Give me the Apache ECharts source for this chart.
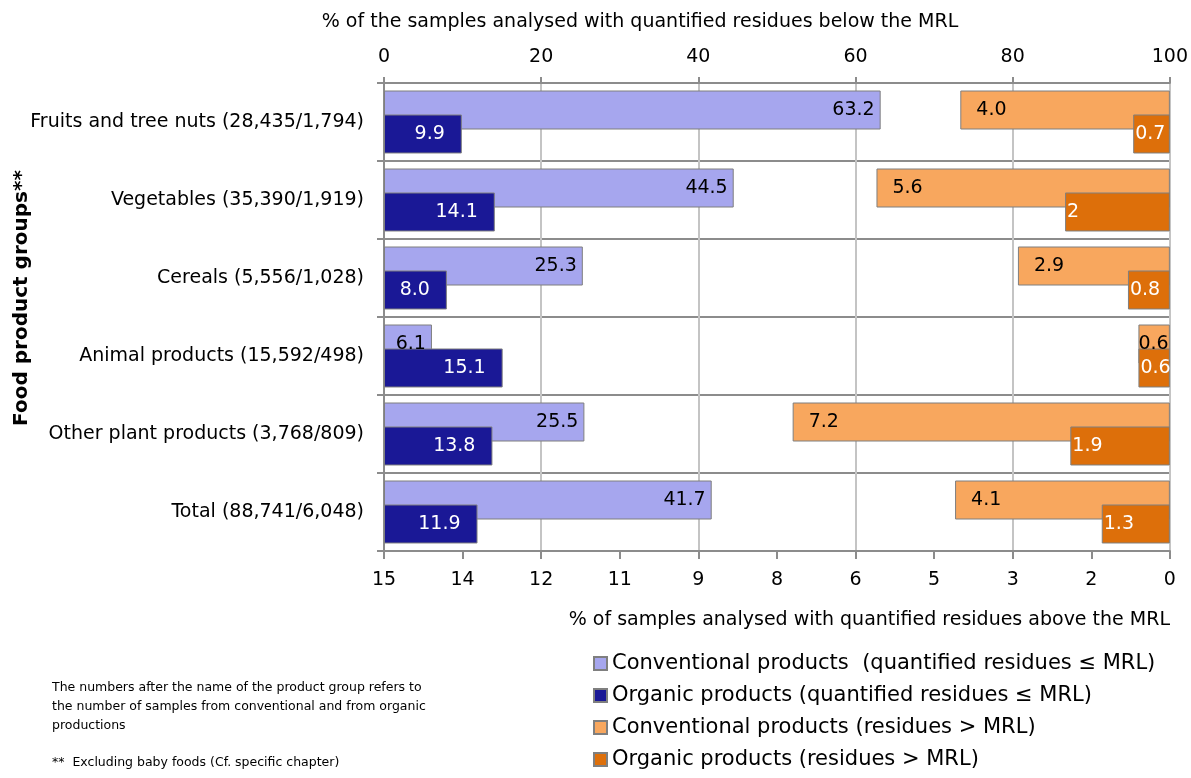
<!DOCTYPE html>
<html>
<head>
<meta charset="utf-8">
<script src="https://cdn.jsdelivr.net/npm/echarts@6/dist/echarts.min.js"></script>
<style>
html,body{margin:0;padding:0;background:#fff;}
#chart{width:1191px;height:778px;}
</style>
</head>
<body>
<div id="chart"></div>
<script>
// ---- data ----
const categories = [
  'Fruits and tree nuts (28,435/1,794)',
  'Vegetables (35,390/1,919)',
  'Cereals (5,556/1,028)',
  'Animal products (15,592/498)',
  'Other plant products (3,768/809)',
  'Total (88,741/6,048)'
];
const convBelow = ['63.2', '44.5', '25.3', '6.1', '25.5', '41.7'];
const orgBelow  = ['9.9', '14.1', '8.0', '15.1', '13.8', '11.9'];
const convAbove = ['4.0', '5.6', '2.9', '0.6', '7.2', '4.1'];
const orgAbove  = ['0.7', '2', '0.8', '0.6', '1.9', '1.3'];
const seriesNames = [
  'Conventional products  (quantified residues \u2264 MRL)',
  'Organic products (quantified residues \u2264 MRL)',
  'Conventional products (residues > MRL)',
  'Organic products (residues > MRL)'
];
const topAxis = { min: 0, max: 100, interval: 20 };
const bottomAxis = { min: 0, max: 15, interval: 1.5 };
const topAxisName = '% of the samples analysed with quantified residues below the MRL';
const bottomAxisName = '% of samples analysed with quantified residues above the MRL';
const yAxisName = 'Food product groups**';
const footnote1 = 'The numbers after the name of the product group refers to\nthe number of samples from conventional and from organic\nproductions';
const footnote2 = '**  Excluding baby foods (Cf. specific chapter)';

// ---- styling ----
const FONT = "'DejaVu Sans', sans-serif";
const colors = ['#a6a6ee', '#1a1896', '#f8a75e', '#dd6f0a'];
const BORDER = '#7f7f7f';
const BW = 39, GAP = '-38.5%';

function mk(name, arr, xi, yi, color, pos, dist, lblColor, shortDist) {
  return {
    name: name, type: 'bar', xAxisIndex: xi, yAxisIndex: yi,
    barWidth: BW, barGap: GAP,
    itemStyle: { color: color, borderColor: BORDER, borderWidth: 1 },
    label: {
      show: true, position: pos, distance: dist, color: lblColor,
      fontFamily: FONT, fontSize: 19,
      formatter: p => arr[p.dataIndex]
    },
    data: arr.map(s => {
      const v = Number(s);
      if (shortDist !== undefined && v < 1) return { value: v, label: { distance: shortDist } };
      return v;
    })
  };
}

const chart = echarts.init(document.getElementById('chart'));
chart.setOption({
  animation: false,
  textStyle: { fontFamily: FONT },
  grid: { left: 384, right: 21, top: 83, bottom: 227, containLabel: false },
  xAxis: [
    {
      type: 'value', position: 'top', min: topAxis.min, max: topAxis.max, interval: topAxis.interval,
      axisLine: { show: true, lineStyle: { color: '#8c8c8c', width: 2 } },
      axisTick: { show: true, length: 6, lineStyle: { color: '#8c8c8c', width: 2 } },
      axisLabel: { color: '#000', fontSize: 19, fontFamily: FONT, margin: 16 },
      splitLine: { show: true, lineStyle: { color: '#c4c4c4', width: 2 } }
    },
    {
      type: 'value', position: 'bottom', inverse: true,
      min: bottomAxis.min, max: bottomAxis.max, interval: bottomAxis.interval,
      axisLine: { show: true, lineStyle: { color: '#8c8c8c', width: 2 } },
      axisTick: { show: true, length: 8, lineStyle: { color: '#8c8c8c', width: 2 } },
      axisLabel: { color: '#000', fontSize: 19, fontFamily: FONT, margin: 20,
        formatter: v => String(Math.round(v)) },
      splitLine: { show: false }
    }
  ],
  yAxis: [
    {
      type: 'category', data: categories, inverse: true,
      axisLine: { show: true, lineStyle: { color: '#8c8c8c', width: 2 } },
      axisTick: { show: true, length: 7, lineStyle: { color: '#8c8c8c', width: 2 } },
      axisLabel: { color: '#000', fontSize: 19, fontFamily: FONT, margin: 20 },
      splitLine: { show: true, lineStyle: { color: '#8c8c8c', width: 2 } }
    },
    {
      type: 'category', data: categories, inverse: true, position: 'left',
      axisLine: { show: false }, axisTick: { show: false }, axisLabel: { show: false },
      splitLine: { show: false }
    }
  ],
  legend: {
    orient: 'vertical', left: 588, top: 648,
    itemWidth: 13, itemHeight: 13, itemGap: 11,
    icon: 'rect',
    textStyle: { color: '#000', fontSize: 21, fontFamily: FONT },
    data: seriesNames
  },
  series: [
    mk(seriesNames[0], convBelow, 0, 0, colors[0], 'insideRight', 6, '#000'),
    mk(seriesNames[1], orgBelow, 0, 0, colors[1], 'insideRight', 17, '#fff'),
    mk(seriesNames[2], convAbove, 1, 1, colors[2], 'insideLeft', 16, '#000', 0),
    mk(seriesNames[3], orgAbove, 1, 1, colors[3], 'insideLeft', 2, '#fff')
  ],
  graphic: [
    { type: 'text', x: 640, y: 22, style: { text: topAxisName, fontSize: 19, fontFamily: FONT, fill: '#000', textAlign: 'center', textVerticalAlign: 'middle' } },
    { type: 'text', x: 1170, y: 620, style: { text: bottomAxisName, fontSize: 19, fontFamily: FONT, fill: '#000', textAlign: 'right', textVerticalAlign: 'middle' } },
    { type: 'text', x: 22, y: 298, rotation: Math.PI / 2, style: { text: yAxisName, fontSize: 20, fontWeight: 'bold', fontFamily: FONT, fill: '#000', textAlign: 'center', textVerticalAlign: 'middle' } },
    { type: 'text', x: 52, y: 678, style: { text: footnote1, fontSize: 12.5, lineHeight: 19, fontFamily: FONT, fill: '#000' } },
    { type: 'text', x: 52, y: 753, style: { text: footnote2, fontSize: 12.5, lineHeight: 19, fontFamily: FONT, fill: '#000' } }
  ]
});
</script>
</body>
</html>
